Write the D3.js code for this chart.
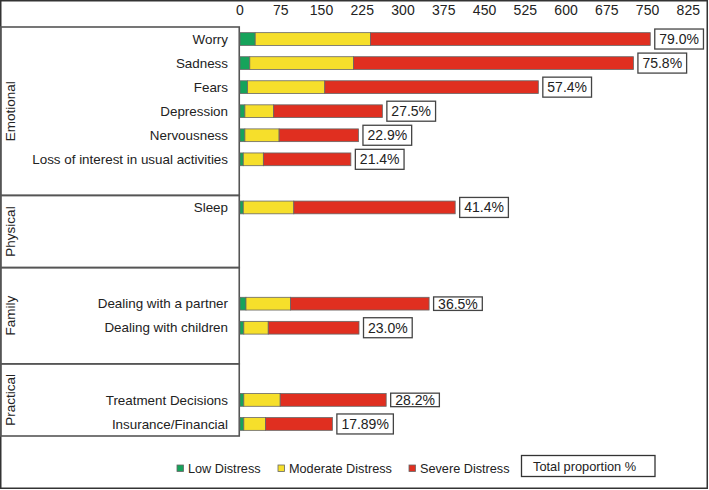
<!DOCTYPE html>
<html>
<head>
  <meta charset="utf-8">
  <title>Distress by problem area</title>
  <script src="https://d3js.org/d3.v7.min.js"></script>
  <style>
    body { margin: 0; background: #fff; }
    text { font-family: "Liberation Sans", Arial, Helvetica, sans-serif; fill: #222; }
  </style>
</head>
<body>
  <div id="chart"></div>
  <script>
  // slots in the y band scale; "" = empty row
  const slotLabels = ["Worry", "Sadness", "Fears", "Depression", "Nervousness",
    "Loss of interest in usual activities", "",
    "Sleep", "", "",
    "", "Dealing with a partner", "Dealing with children", "",
    "", "Treatment Decisions", "Insurance/Financial"];
  const slotGroups = ["Emotional", "Emotional", "Emotional", "Emotional", "Emotional", "Emotional", "Emotional",
    "Physical", "Physical", "Physical",
    "Family", "Family", "Family", "Family",
    "Practical", "Practical", "Practical"];
  const groups = ["Emotional", "Physical", "Family", "Practical"];

  const items = ["Worry", "Sadness", "Fears", "Depression", "Nervousness",
    "Loss of interest in usual activities", "Sleep", "Dealing with a partner",
    "Dealing with children", "Treatment Decisions", "Insurance/Financial"];
  const low      = [28, 18, 14, 9, 9, 6, 6, 11, 7, 7, 7];
  const moderate = [212, 191, 142, 53, 63, 37, 93, 82, 45, 67, 40];
  const severe   = [515, 515, 393, 200, 146, 161, 297, 255, 167, 195, 123];
  const totals   = ["79.0%", "75.8%", "57.4%", "27.5%", "22.9%", "21.4%", "41.4%",
    "36.5%", "23.0%", "28.2%", "17.89%"];
  const xTicks = [0, 75, 150, 225, 300, 375, 450, 525, 600, 675, 750, 825];

  const seriesNames = ["Low Distress", "Moderate Distress", "Severe Distress"];
  const colors = ["#16a35b", "#f6df2b", "#e02f20"];

  const width = 709, height = 490;
  const svg = d3.select("#chart").append("svg")
    .attr("width", width)
    .attr("height", height);

  const x = d3.scaleLinear().domain([0, 825]).range([240, 688.3]);
  const y = d3.scaleBand().domain(d3.range(slotLabels.length))
    .range([27, 436]).paddingInner(0.47).paddingOuter(0.235);

  // outer frame
  svg.append("rect")
    .attr("x", 0.75).attr("y", 0.75)
    .attr("width", 706.5).attr("height", 487.5)
    .attr("fill", "none").attr("stroke", "#333").attr("stroke-width", 1.5);

  // top axis labels only
  svg.append("g").selectAll("text")
    .data(xTicks).enter().append("text")
    .attr("x", d => x(d))
    .attr("y", 15)
    .attr("text-anchor", "middle")
    .attr("font-size", "14px")
    .text(d => d);

  // group boxes on the left
  groups.forEach(g => {
    const idx = slotGroups.map((s, i) => s === g ? i : -1).filter(i => i >= 0);
    const top = y(idx[0]) - y.step() * y.paddingInner() / 2;
    const bottom = y(idx[idx.length - 1]) + y.bandwidth() + y.step() * y.paddingInner() / 2;
    svg.append("rect")
      .attr("x", 0.75).attr("y", top)
      .attr("width", 238.5).attr("height", bottom - top)
      .attr("fill", "none").attr("stroke", "#555").attr("stroke-width", 1.6);
    svg.append("text")
      .attr("transform", "translate(15," + ((top + bottom) / 2) + ") rotate(-90)")
      .attr("text-anchor", "middle")
      .attr("font-size", "13.5px")
      .text(g);
  });

  // row labels
  svg.append("g").selectAll("text")
    .data(slotLabels.map((d, i) => [d, i]).filter(d => d[0] !== ""))
    .enter().append("text")
    .attr("x", 228)
    .attr("y", d => y(d[1]) + y.bandwidth() / 2)
    .attr("dy", "0.35em")
    .attr("text-anchor", "end")
    .attr("font-size", "13.4px")
    .text(d => d[0]);

  // stacked bars
  const rows = items.map((name, i) => ({ name: name, values: [low[i], moderate[i], severe[i]], total: totals[i] }));
  const rowY = d => y(slotLabels.indexOf(d.name));

  rows.forEach(r => {
    let acc = 0;
    r.values.forEach((v, k) => {
      svg.append("rect")
        .attr("x", x(acc))
        .attr("y", rowY(r))
        .attr("width", x(acc + v) - x(acc))
        .attr("height", y.bandwidth())
        .attr("fill", colors[k])
        .attr("stroke", "#666")
        .attr("stroke-width", 0.8);
      acc += v;
    });
    r.end = acc;
  });

  // total proportion boxes
  const tight = ["Dealing with a partner", "Treatment Decisions"];
  rows.forEach(r => {
    const cy = rowY(r) + y.bandwidth() / 2;
    const g = svg.append("g");
    const t = g.append("text")
      .attr("x", x(r.end) + 9)
      .attr("y", cy)
      .attr("dy", "0.36em")
      .attr("font-size", "14px")
      .text(r.total);
    const w = t.node().getComputedTextLength();
    const h = tight.includes(r.name) ? 13.5 : 20;
    g.insert("rect", "text")
      .attr("x", x(r.end) + 4.5)
      .attr("y", cy - h / 2)
      .attr("width", w + 9)
      .attr("height", h)
      .attr("fill", "#fff")
      .attr("stroke", "#444")
      .attr("stroke-width", 1.3);
  });

  // legend
  const legX = [177, 278, 409];
  const legend = svg.append("g");
  seriesNames.forEach((n, i) => {
    legend.append("rect")
      .attr("x", legX[i]).attr("y", 465)
      .attr("width", 6.5).attr("height", 6.5)
      .attr("fill", colors[i]).attr("stroke", "#666").attr("stroke-width", 0.8);
    legend.append("text")
      .attr("x", legX[i] + 11).attr("y", 468.5)
      .attr("dy", "0.36em")
      .attr("font-size", "12.7px")
      .text(n);
  });
  legend.append("rect")
    .attr("x", 521.5).attr("y", 455.5)
    .attr("width", 133.5).attr("height", 21)
    .attr("fill", "#fff").attr("stroke", "#333").attr("stroke-width", 1.3);
  legend.append("text")
    .attr("x", 533).attr("y", 466)
    .attr("dy", "0.36em")
    .attr("font-size", "12.8px")
    .text("Total proportion %");
  </script>
</body>
</html>
